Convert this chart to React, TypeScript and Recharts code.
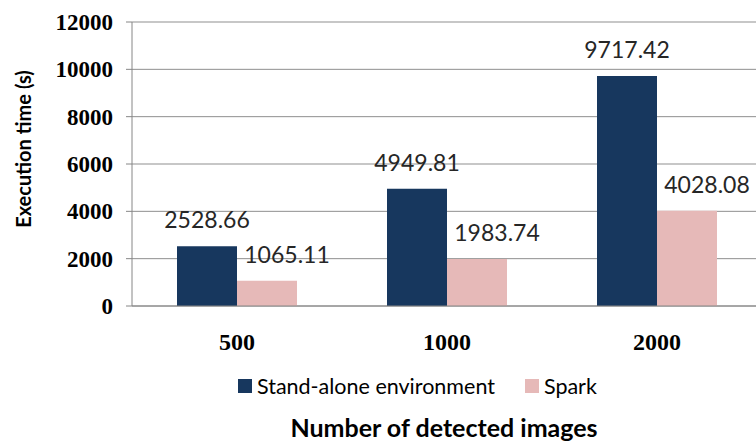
import React from 'react';
import { BarChart, Bar, XAxis, YAxis, CartesianGrid, Legend, LabelList, Label } from 'recharts';

const categories = ['500', '1000', '2000'];
const standaloneValues = [2528.66, 4949.81, 9717.42];
const sparkValues = [1065.11, 1983.74, 4028.08];
const yTicks = [0, 2000, 4000, 6000, 8000, 10000, 12000];
const boundTicks = [0, 1, 2, 3];
const seriesOrder = ['standalone', 'spark'];

const data = categories.map((c, i) => ({
  name: c,
  standalone: standaloneValues[i],
  spark: sparkValues[i],
}));

const AXIS = '#868686';
const DARK = '#17375E';
const PINK = '#E6B9B8';

const makeValueLabel = (dx: number) => (p: any) => {
  const vb = p.viewBox || p;
  const x = (vb.x ?? p.x) + (vb.width ?? p.width) / 2 + dx;
  const y = (vb.y ?? p.y) - 18;
  return (
    <text x={x} y={y} textAnchor="middle" fill="#262626" fontFamily="Lato" fontSize={23}>
      {Number(p.value).toFixed(2)}
    </text>
  );
};

const YTitle = (p: any) => {
  const vb = p.viewBox;
  const cx = vb.x + 23;
  const cy = vb.y + vb.height / 2 - 15;
  return (
    <text
      x={cx}
      y={cy}
      transform={`rotate(-90 ${cx} ${cy})`}
      textAnchor="middle"
      dominantBaseline="central"
      fontFamily="Lato"
      fontWeight={700}
      fontSize={20}
      fill="#000"
    >
      Execution time (s)
    </text>
  );
};

const XTitle = (p: any) => {
  const vb = p.viewBox;
  const cx = vb.x + vb.width / 2 - 3;
  const cy = vb.y + vb.height - 4;
  return (
    <text x={cx} y={cy} textAnchor="middle" fontFamily="Lato" fontWeight={700} fontSize={25} fill="#000">
      Number of detected images
    </text>
  );
};

const renderLegend = (props: any) => {
  const items = [...(props.payload || [])].sort(
    (a: any, b: any) => seriesOrder.indexOf(a.dataKey) - seriesOrder.indexOf(b.dataKey)
  );
  return (
    <div style={{ display: 'flex', alignItems: 'center', fontFamily: 'Lato', fontSize: 21.5, color: '#000', lineHeight: '26px', whiteSpace: 'nowrap' }}>
      {items.map((e: any, i: number) => (
        <div key={i} style={{ display: 'flex', alignItems: 'center', marginRight: 30 }}>
          <span style={{ width: 14, height: 14, background: e.color, marginRight: 5, display: 'inline-block' }} />
          <span>{e.value}</span>
        </div>
      ))}
    </div>
  );
};

export default function App() {
  return (
    <div style={{ position: 'fixed', top: 0, left: 0, width: 756, height: 441, overflow: 'hidden', background: '#fff' }}>
      <BarChart
        width={780}
        height={441}
        data={data}
        margin={{ top: 22, right: 18, bottom: 0, left: 0 }}
        barGap={0}
        barSize={60}
      >
        <CartesianGrid vertical={false} stroke="#8f8f8f" xAxisId="cat" />
        <XAxis
          xAxisId="bounds"
          type="number"
          domain={[0, 3]}
          allowDataOverflow
          ticks={boundTicks}
          tick={false}
          tickSize={7}
          height={1}
          stroke={AXIS}
          axisLine={{ stroke: AXIS }}
          tickLine={{ stroke: AXIS }}
        />
        <XAxis
          xAxisId="cat"
          dataKey="name"
          height={134}
          axisLine={false}
          tickLine={false}
          tickSize={0}
          tickMargin={26}
          tick={{ fill: '#000', fontFamily: 'Liberation Serif', fontWeight: 700, fontSize: 24 }}
        >
          <Label content={XTitle} />
        </XAxis>
        <YAxis
          width={132}
          domain={[0, 12000]}
          ticks={yTicks}
          interval={0}
          tickSize={6}
          tickMargin={13}
          axisLine={{ stroke: AXIS }}
          tickLine={{ stroke: AXIS }}
          tick={{ fill: '#000', fontFamily: 'Liberation Serif', fontWeight: 700, fontSize: 23 }}
        >
          <Label content={YTitle} />
        </YAxis>
        <Legend
          layout="horizontal"
          verticalAlign="middle"
          align="center"
          content={renderLegend}
          wrapperStyle={{ top: 373, left: 238, width: 460 }}
        />
        <Bar xAxisId="cat" dataKey="standalone" name="Stand-alone environment" fill={DARK} isAnimationActive={false}>
          <LabelList dataKey="standalone" content={makeValueLabel(0)} />
        </Bar>
        <Bar xAxisId="cat" dataKey="spark" name="Spark" fill={PINK} isAnimationActive={false}>
          <LabelList dataKey="spark" content={makeValueLabel(20)} />
        </Bar>
      </BarChart>
    </div>
  );
}
